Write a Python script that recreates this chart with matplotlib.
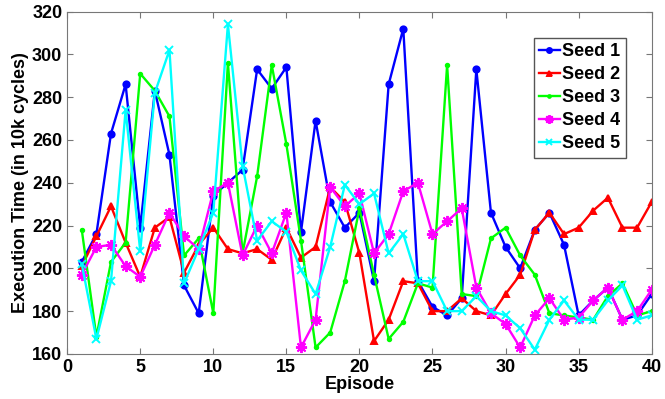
import numpy as np
import matplotlib
matplotlib.use('Agg')
import matplotlib.pyplot as plt

plt.rcParams['font.family'] = ['Liberation Sans', 'DejaVu Sans']
plt.rcParams['font.weight'] = 'bold'

episodes = np.arange(1, 41)
seed1 = [203, 216, 263, 286, 219, 283, 253, 192, 179, 234, 240, 246, 293, 284, 294, 217, 269, 231, 219, 226,
         194, 286, 312, 194, 182, 178, 186, 293, 226, 210, 200, 218, 226, 211, 178, 185, 191, 176, 178, 188]
seed2 = [201, 215, 229, 212, 196, 219, 224, 198, 211, 219, 209, 207, 209, 204, 219, 205, 210, 238, 231, 207,
         166, 176, 194, 193, 180, 180, 186, 180, 178, 188, 197, 218, 226, 216, 219, 227, 233, 219, 219, 231]
seed3 = [218, 168, 203, 212, 291, 283, 271, 206, 214, 179, 296, 207, 243, 295, 258, 213, 163, 170, 194, 228,
         197, 167, 175, 193, 191, 295, 188, 187, 214, 219, 206, 197, 179, 178, 177, 176, 187, 193, 178, 180]
seed4 = [197, 210, 211, 201, 196, 211, 226, 215, 209, 236, 240, 206, 220, 207, 226, 163, 176, 238, 229, 235,
         207, 216, 236, 240, 216, 222, 228, 191, 179, 174, 163, 178, 186, 176, 177, 185, 191, 176, 180, 190]
seed5 = [202, 167, 194, 274, 208, 282, 302, 193, 209, 226, 314, 248, 213, 222, 217, 199, 188, 210, 239, 230,
         235, 207, 216, 194, 194, 180, 180, 187, 180, 178, 172, 162, 176, 185, 176, 176, 185, 192, 176, 178]
labels = ['Seed 1', 'Seed 2', 'Seed 3', 'Seed 4', 'Seed 5']

series = [seed1, seed2, seed3, seed4, seed5]
colors = ['#0000ff', '#ff0000', '#00ff00', '#ff00ff', '#00ffff']
# matlab-like markers: circle, triangle, point, asterisk, cross
markers = ['o', '^', '.', (8, 2, 0), 'x']
msizes = [4.5, 4.5, 5, 8, 6]

fig = plt.figure(figsize=(6.65, 3.99), dpi=100)
ax = fig.add_axes([0.101, 0.113, 0.879, 0.858])

for s, c, m, ms, lab in zip(series, colors, markers, msizes, labels):
    ax.plot(episodes, s, color=c, marker=m, markersize=ms, linewidth=1.7,
            markeredgewidth=1.4, label=lab)

ax.set_xlim(0, 40)
ax.set_ylim(160, 320)
ax.set_xticks(range(0, 41, 5))
ax.set_yticks(range(160, 321, 20))
ax.tick_params(direction='in', top=True, right=True, labelsize=13, color='#777777', length=4)
for sp in ax.spines.values():
    sp.set_color('#777777')
ax.set_xlabel('Episode', fontsize=13, fontweight='bold', labelpad=0)
ax.set_ylabel('Execution Time (in 10k cycles)', fontsize=13, fontweight='bold', labelpad=2)

leg = ax.legend(loc='upper right', bbox_to_anchor=(0.956, 0.923), fontsize=13, fancybox=False,
                edgecolor='#555555', framealpha=1, handlelength=1.15, handletextpad=0.15,
                labelspacing=0.33, borderpad=0.3, borderaxespad=0, markerscale=0.8)
leg.get_frame().set_linewidth(1)

fig.savefig('out.png', dpi=100)
